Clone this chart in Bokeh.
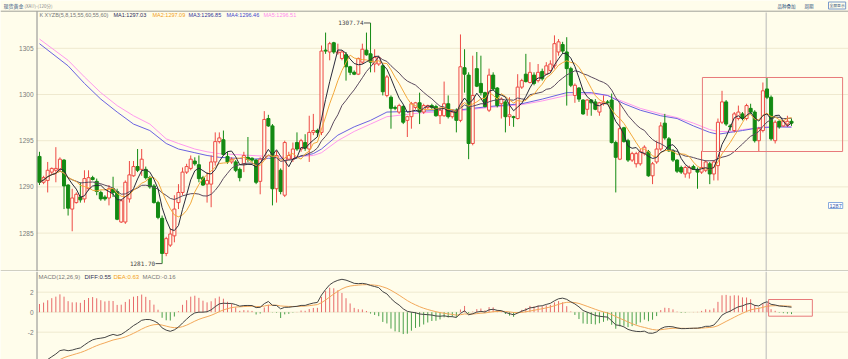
import numpy as np
import pandas as pd
from bokeh.plotting import figure
from bokeh.layouts import column
from bokeh.models import Range1d, Span, Label, ColumnDataSource
from bokeh.embed import file_html
from bokeh.resources import INLINE
from bokeh.core.properties import value

# ---------------- data ----------------
open_ = [1293.3,1290.5,1290.7,1291.6,1291.8,1291.9,1292.9,1290.2,1287.6,1288.3,
         1288.9,1288.7,1289.8,1291.0,1290.6,1289.4,1288.9,1288.8,1289.8,1289.5,
         1286.2,1286.2,1288.7,1291.2,1292.2,1291.9,1291.9,1291.0,1290.1,1288.3,
         1286.6,1282.8,1283.7,1284.7,1288.3,1289.4,1291.6,1292.0,1292.8,1292.4,
         1291.0,1290.3,1290.3,1292.7,1294.9,1295.1,1293.3,1292.7,1292.7,1291.9,
         1292.5,1293.2,1293.1,1292.9,1290.6,1293.0,1297.4,1296.6,1289.8,1291.8,
         1289.1,1293.0,1293.0,1294.8,1294.1,1294.8,1294.1,1295.9,1296.1,1295.9,
         1304.8,1304.6,1305.6,1304.5,1303.9,1304.3,1303.0,1302.4,1302.2,1303.5,
         1304.8,1304.4,1303.3,1303.3,1303.1,1299.9,1299.7,1298.6,1298.1,1298.7,
         1297.2,1297.6,1298.6,1299.1,1298.1,1298.6,1298.8,1298.7,1297.7,1297.7,
         1299.0,1297.6,1298.3,1297.2,1302.9,1302.1,1294.7,1302.8,1301.2,1300.2,
         1298.3,1302.1,1300.7,1299.0,1299.2,1297.6,1297.6,1297.4,1300.8,1302.2,
         1301.3,1302.1,1301.5,1302.5,1302.2,1302.6,1303.1,1304.6,1305.4,1304.6,
         1302.8,1299.9,1300.7,1299.4,1298.4,1299.4,1299.2,1298.1,1299.0,1299.2,
         1299.4,1294.8,1293.0,1296.4,1295.0,1292.9,1292.5,1292.5,1293.6,1293.8,
         1291.2,1292.7,1294.1,1296.9,1295.2,1293.9,1292.9,1292.1,1291.4,1291.5,
         1292.2,1291.9,1291.6,1291.8,1292.5,1291.4,1292.3,1297.0,1299.2,1296.6,
         1296.1,1297.4,1297.9,1297.4,1298.5,1298.1,1295.0,1296.1,1300.6,1299.7,
         1295.0,1297.1,1296.6,1296.8,1297.1]
high = [1293.8,1291.2,1292.7,1292.1,1294.3,1293.2,1293.0,1290.3,1289.8,1289.4,
        1290.5,1291.8,1291.8,1291.2,1290.9,1289.6,1289.1,1290.2,1291.1,1289.8,
        1288.7,1290.7,1292.8,1292.8,1294.1,1294.1,1292.2,1291.2,1290.3,1288.5,
        1286.9,1284.6,1285.5,1289.1,1290.3,1292.1,1292.5,1293.4,1293.2,1293.4,
        1291.2,1291.6,1293.4,1295.9,1295.9,1296.1,1293.8,1293.2,1292.9,1292.1,
        1293.8,1295.4,1293.2,1293.0,1293.2,1298.2,1297.8,1296.8,1293.9,1292.0,
        1295.0,1293.8,1294.8,1295.9,1295.2,1295.7,1297.7,1297.9,1296.3,1305.3,
        1306.7,1305.7,1305.7,1305.5,1304.8,1304.6,1303.1,1302.6,1304.0,1305.5,
        1306.7,1307.74,1304.9,1304.2,1303.3,1302.1,1299.9,1298.8,1299.0,1298.9,
        1297.7,1299.2,1299.2,1300.2,1299.0,1298.9,1299.0,1298.9,1298.5,1301.4,
        1299.9,1298.3,1298.5,1306.5,1304.9,1302.4,1304.2,1304.6,1304.2,1300.3,
        1302.8,1302.4,1300.8,1299.7,1299.4,1299.7,1297.7,1302.2,1301.7,1304.4,
        1303.5,1302.4,1303.3,1302.8,1303.5,1303.7,1306.4,1306.0,1305.7,1306.2,
        1303.0,1301.2,1300.8,1299.5,1299.5,1299.5,1299.5,1299.2,1299.9,1299.4,
        1300.1,1295.0,1299.1,1296.5,1295.2,1293.8,1293.8,1294.1,1294.5,1294.0,
        1292.7,1295.0,1297.0,1297.9,1295.4,1294.1,1293.0,1292.3,1292.3,1292.3,
        1292.4,1292.1,1293.9,1292.9,1292.7,1292.9,1297.4,1300.4,1299.4,1296.8,
        1298.1,1298.8,1298.1,1299.0,1299.0,1298.3,1296.5,1301.3,1301.8,1299.9,
        1297.2,1297.2,1297.2,1297.7,1297.4]
low = [1290.2,1290.3,1289.4,1291.4,1290.5,1291.6,1287.6,1286.9,1285.2,1288.2,
       1288.3,1288.3,1289.6,1290.7,1289.1,1288.5,1288.5,1288.0,1288.9,1286.4,
       1286.1,1286.0,1288.3,1291.1,1291.6,1291.2,1290.8,1289.8,1288.2,1286.5,
       1281.7,1282.5,1283.5,1284.0,1287.6,1289.1,1291.4,1291.8,1292.3,1290.5,
       1290.1,1288.3,1287.8,1292.3,1294.7,1293.4,1292.5,1292.5,1291.6,1290.6,
       1291.6,1292.7,1292.7,1290.3,1289.2,1292.9,1296.5,1288.0,1288.3,1289.2,
       1288.9,1292.9,1292.7,1293.9,1293.8,1293.9,1292.7,1295.6,1295.4,1295.6,
       1304.4,1303.7,1304.4,1304.3,1303.7,1301.5,1302.1,1302.1,1302.1,1303.3,
       1304.2,1302.4,1302.4,1303.1,1299.9,1299.7,1296.3,1298.3,1297.9,1296.8,
       1295.4,1296.3,1298.4,1296.8,1297.9,1298.4,1298.4,1297.6,1296.8,1297.6,
       1297.4,1297.4,1295.9,1297.0,1300.2,1293.0,1294.5,1300.8,1299.9,1298.6,
       1298.1,1300.4,1298.6,1297.4,1295.9,1296.6,1296.5,1297.3,1300.6,1301.3,
       1301.2,1301.0,1301.3,1301.5,1302.1,1302.4,1302.8,1304.2,1304.4,1298.8,
       1300.8,1299.1,1299.2,1297.8,1297.7,1297.7,1298.3,1297.7,1298.8,1299.0,
       1294.7,1289.4,1292.9,1294.8,1292.7,1292.7,1292.1,1292.3,1293.4,1291.1,
       1290.3,1292.5,1293.9,1295.1,1293.8,1292.7,1291.5,1291.4,1291.0,1290.9,
       1291.9,1289.8,1291.4,1291.6,1290.3,1290.7,1290.7,1296.8,1296.6,1296.1,
       1295.9,1297.2,1297.2,1297.2,1297.9,1294.8,1293.8,1295.9,1299.5,1295.0,
       1294.7,1296.3,1296.5,1296.5,1296.6]
close = [1290.5,1291.0,1291.8,1292.0,1292.0,1293.0,1290.1,1287.7,1288.8,1289.2,
         1288.6,1290.9,1291.0,1290.8,1289.5,1288.7,1288.7,1289.8,1289.4,1286.5,
         1288.5,1290.5,1291.3,1292.2,1291.8,1293.0,1291.0,1290.0,1288.3,1286.7,
         1282.8,1284.4,1284.9,1287.6,1289.4,1291.6,1292.2,1293.0,1292.5,1290.9,
         1290.2,1290.7,1292.7,1294.9,1295.3,1293.5,1292.7,1293.0,1291.8,1291.0,
         1293.4,1293.0,1292.9,1290.5,1293.0,1297.3,1296.6,1289.8,1293.4,1289.5,
         1294.8,1293.4,1294.1,1294.1,1295.0,1294.2,1295.9,1296.1,1295.9,1304.7,
         1304.7,1305.5,1304.6,1304.6,1304.6,1303.0,1302.4,1302.2,1303.9,1304.9,
         1304.3,1303.5,1304.0,1304.0,1300.3,1301.9,1298.5,1298.5,1298.8,1297.0,
         1297.6,1299.0,1299.1,1298.1,1298.8,1298.8,1298.6,1297.7,1298.3,1299.0,
         1297.6,1298.1,1297.2,1303.0,1302.2,1294.7,1299.9,1300.9,1300.2,1298.7,
         1302.1,1300.6,1298.8,1299.5,1297.6,1297.8,1297.5,1300.8,1301.5,1301.4,
         1302.4,1301.2,1302.4,1301.7,1303.1,1303.3,1305.5,1305.7,1304.7,1302.8,
         1301.0,1301.0,1299.5,1297.9,1299.4,1299.1,1298.4,1299.1,1299.2,1299.1,
         1294.8,1293.2,1296.3,1294.9,1292.9,1293.6,1293.6,1293.8,1294.3,1291.2,
         1292.5,1294.1,1296.6,1295.3,1293.9,1292.9,1291.7,1291.6,1292.1,1292.1,
         1291.9,1291.6,1292.1,1292.7,1291.4,1292.7,1297.0,1299.2,1296.8,1296.5,
         1297.9,1298.1,1297.4,1298.8,1298.1,1295.0,1296.3,1300.4,1299.7,1295.2,
         1297.0,1296.5,1297.1,1297.1,1296.9]

# long moving averages at sample candles
ma55_idx = [0,7,11,15,19,23,27,31,34,38,41,44,48,52,56,61,67,69,73,77,81,85,93,102,
            106,110,118,123,129,135,139,143,147,152,156,160,164,166,169,172,176,180,184]
ma55_val = [1305.5,1303.1,1301.2,1299.5,1298.1,1296.8,1296.1,1294.7,1294.1,1293.7,1293.4,
            1293.2,1293.1,1293.0,1293.1,1293.0,1293.6,1294.1,1295.6,1296.5,1297.2,1298.1,
            1298.2,1298.3,1298.5,1298.7,1299.0,1299.5,1300.2,1300.2,1299.9,1299.0,1298.3,
            1297.7,1297.4,1296.6,1295.9,1295.7,1295.9,1296.1,1296.4,1296.5,1296.46]
ma60_val = [1306.0,1303.7,1301.9,1300.2,1298.8,1297.7,1296.8,1295.2,1294.7,1294.1,1293.8,
            1293.6,1293.5,1293.4,1293.3,1293.2,1293.4,1293.7,1295.0,1296.0,1296.8,1297.6,
            1298.0,1298.2,1298.4,1298.6,1298.9,1299.3,1299.9,1300.1,1299.9,1299.2,1298.5,
            1297.9,1297.5,1296.9,1296.2,1296.0,1296.0,1296.2,1296.4,1296.5,1296.55]

# EMA states carried in from before the first visible candle (estimated)
ema12_seed, ema26_seed, dea_seed = 1294.0, 1299.3, -5.7

ma_texts = ["MA1:1297.03", "MA2:1297.09", "MA3:1296.85", "MA4:1296.46", "MA5:1296.51"]
macd_texts = ["MACD(12,26,9)", "DIFF:0.55", "DEA:0.63", "MACD:-0.16"]
price_ticks = [1285, 1290, 1295, 1300, 1305]
macd_ticks = [-2, 0, 2]
box_main = dict(left=162.2, right=196.5, top=1301.84, bottom=1293.83)
box_macd = dict(left=178.4, right=189.1, top=1.27, bottom=-0.40)
cross_idx = 177.8

# ---------------- styling / layout ----------------
BG = "#fffdeb"
RED = "#ee4a44"
GREEN = "#138a13"
GRID = "#efe9cf"
EDGE = "#a0a098"
FONT = "Liberation Sans"
CJK = "Noto Sans CJK SC"

PXU = 4.087                  # px per candle
X0 = -0.734 - 36 / PXU       # candle index at page x 0
PYU = 9.24                   # px per price unit
YT = 1300 + 94 / PYU         # price at page y 0
M1 = 4.07                    # MACD value at page y 271

def mx(px):
    return X0 + px / PXU

def my(py):
    return YT - py / PYU

def gy(py):
    return M1 - (py - 271) / 10.0

o = np.array(open_); h = np.array(high); l = np.array(low); c = np.array(close)
n = len(c)
idx = np.arange(n)
up = c >= o
src = ColumnDataSource(dict(
    x=idx, h=h, l=l, top=np.maximum(o, c), bot=np.minimum(o, c),
    col=np.where(up, RED, GREEN), fill=np.where(up, BG, GREEN)))

s = pd.Series(c)
ma5 = s.rolling(5, min_periods=1).mean().values
ma8 = s.rolling(8, min_periods=1).mean().values
ma15 = s.rolling(15, min_periods=1).mean().values

x_range = Range1d(X0, X0 + 848 / PXU)

def make_fig(h_px, yr):
    f = figure(width=848, height=h_px, output_backend="svg", toolbar_location=None,
               x_range=x_range, y_range=yr, x_axis_type=None, y_axis_type=None,
               min_border_left=0, min_border_right=0, min_border_top=0, min_border_bottom=0,
               background_fill_color=BG, border_fill_color=BG, outline_line_color=None)
    f.grid.visible = False
    return f

def y_axis(f, ticks, y_top, y_bot):
    f.segment([mx(36)] * len(ticks), ticks, [mx(848)] * len(ticks), ticks,
              line_color=GRID, line_width=1)
    f.segment([mx(36.5)], [y_top], [mx(36.5)], [y_bot], line_color="#8a8a8a", line_width=1)
    f.text([mx(33)] * len(ticks), ticks, text=[str(t) for t in ticks], text_align="right",
           text_baseline="middle", text_font=value(FONT), text_font_size=value("6.5px"),
           text_color="#7a7a7a")

p = make_fig(271, Range1d(YT - 271 / PYU, YT))
y_axis(p, price_ticks, my(10.7), my(271))

# frame lines
p.segment([mx(0), mx(0)], [my(10.7), my(270.5)], [mx(848), mx(848)], [my(10.7), my(270.5)],
          line_color=EDGE, line_width=1)
p.segment([cross_idx], [my(12)], [cross_idx], [my(271)], line_color="#b8b8b8", line_width=1)

p.line(ma55_idx, ma60_val, line_color="#ff99ee", line_width=1)
p.line(ma55_idx, ma55_val, line_color="#6a62e0", line_width=1)
p.segment("x", "h", "x", "l", source=src, line_color="col", line_width=1)
p.vbar(x="x", width=0.75, top="top", bottom="bot", source=src,
       fill_color="fill", line_color="col", line_width=1)
p.line(idx, ma15, line_color="#5b4a5e", line_width=1)
p.line(idx, ma8, line_color="#f2a83a", line_width=1)
p.line(idx, ma5, line_color="#2a2a3a", line_width=1)

p.quad(line_color="#e87a7a", fill_color=None, line_width=1, **{k: [v] for k, v in box_main.items()})

# max / min markers
hi_i = int(np.argmax(h)); lo_i = int(np.argmin(l))
for i_, val in ((hi_i, h[hi_i]), (lo_i, l[lo_i])):
    p.segment([i_ - 1.6], [val], [i_], [val], line_color="#555555", line_width=1)
    p.text([i_ - 1.7], [val], text=["%.2f" % val], text_align="right", text_baseline="middle",
           text_font=value("DejaVu Sans Mono"), text_font_size=value("6px"), text_color="#444444")

# header texts
def lab(fig, x, y, t, color, size="5.5px", font=FONT):
    fig.add_layout(Label(x=x, y=y, text=t, text_color=color, text_font_size=size,
                         text_font=font, text_baseline="middle", text_align="left"))

lab(p, mx(3), my(5), "现货黄金", "#2a4a7a", "5px", CJK)
lab(p, mx(24), my(5), "(XAU)-(120分)", "#8a8a8a", "4.5px", CJK)
lab(p, mx(777), my(5), "品种叠加", "#2a4a7a", "4.5px", CJK)
lab(p, mx(804), my(5), "周期", "#2a4a7a", "4.5px", CJK)
p.add_layout(Label(x=mx(828), y=my(5), text="全屏显示", text_color="#2a4a7a", text_font_size="3.8px",
                   text_font=CJK, text_baseline="middle", text_align="left",
                   border_line_color="#7a9acc", padding=1))
lab(p, mx(39), my(14), "K", "#777777")
lab(p, mx(44), my(14), "XYZB(5,8,15,55,60,55,60)", "#777777")
ma_cols = ["#2a2a5a", "#f2a020", "#333399", "#4444cc", "#ff88ee"]
ma_x = [113, 152, 188, 226, 263]
for t, cc, xx in zip(ma_texts, ma_cols, ma_x):
    lab(p, mx(xx), my(14), t, cc)
p.add_layout(Label(x=mx(828), y=my(205), text="1287", text_color="#3a5aaa", text_font_size="5.5px",
                   text_font=FONT, text_baseline="middle", text_align="left",
                   border_line_color="#88aadd", background_fill_color="#ffffff", padding=1))

# ---------------- MACD ----------------
e12, e26, dea = ema12_seed, ema26_seed, dea_seed
diff_l, dea_l = [], []
for cv in c:
    e12 += (cv - e12) * 2 / 13
    e26 += (cv - e26) * 2 / 27
    d = e12 - e26
    dea += (d - dea) * 2 / 10
    diff_l.append(d); dea_l.append(dea)
diff_a = np.array(diff_l); dea_a = np.array(dea_l)
hist = 2 * (diff_a - dea_a)

m = make_fig(88, Range1d(M1 - 8.8, M1))
y_axis(m, macd_ticks, gy(271), gy(359))
m.segment([cross_idx], [gy(271)], [cross_idx], [gy(359)], line_color="#b8b8b8", line_width=1)

hcol = np.where(hist >= 0, "#e86a6a", "#4aa04a")
m.segment(idx, np.zeros(n), idx, hist, line_color=hcol, line_width=1)
m.line(idx, dea_a, line_color="#f2a85a", line_width=1)
m.line(idx, diff_a, line_color="#444444", line_width=1)
m.quad(line_color="#e87a7a", fill_color=None, line_width=1, **{k: [v] for k, v in box_macd.items()})

mc_cols = ["#777777", "#333355", "#f2a020", "#777777"]
mc_x = [38, 84, 113, 142]
for t, cc, xx in zip(macd_texts, mc_cols, mc_x):
    lab(m, mx(xx), gy(276), t, cc, "6px")

layout = column(p, m)
open("out.html", "w").write(file_html(layout, INLINE))
